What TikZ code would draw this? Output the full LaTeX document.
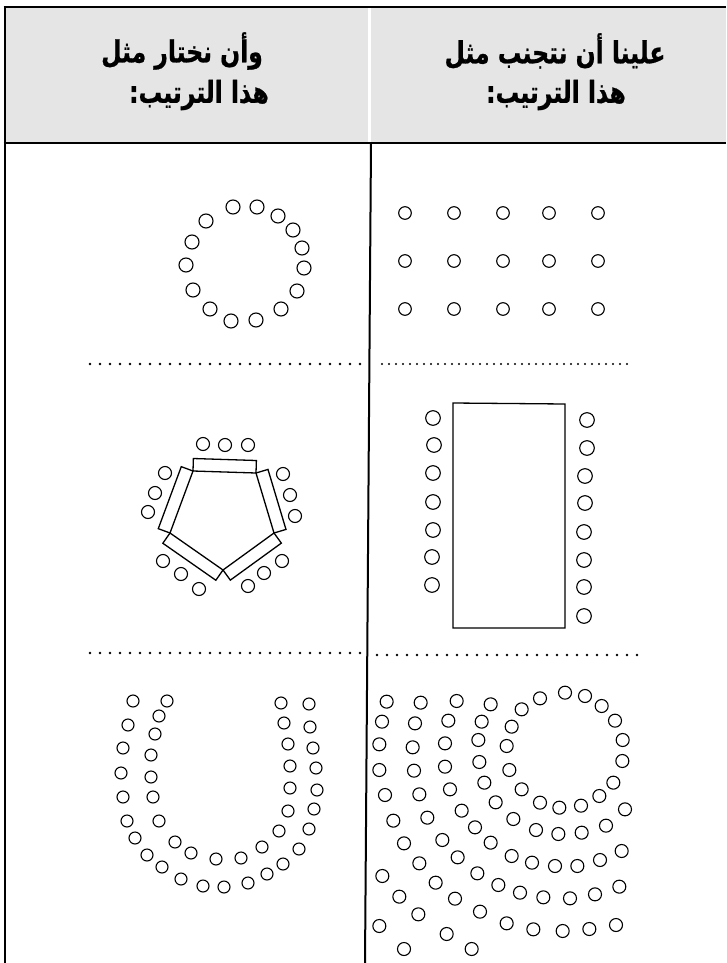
\documentclass[tikz,border=0pt]{standalone}
\usepackage{graphicx}
\usepackage{fontspec}
\TeXXeTstate=1
\newfontfamily\arabicfont[Script=Arabic, FakeBold=0.8]{DejaVu Sans Bold}
\usetikzlibrary{calc}
\definecolor{hdrgray}{HTML}{E5E5E5}
\newcommand{\hdrline}[1]{\scalebox{1.02}[1.32]{\beginR #1\endR}}
\tikzset{
  frame/.style={line width=2.8pt, black},
  divider/.style={line width=2pt, black},
  hdrtext/.style={font=\arabicfont\fontsize{23}{27}\selectfont, inner sep=0pt},
  seat/.style={line width=1.1pt, black},
  tbl/.style={line width=1.3pt, black, line join=miter},
  dotrow/.style={line width=2.6pt, dash pattern=on 0pt off 10pt, line cap=round},
  dotrowdense/.style={line width=2.4pt, dash pattern=on 0pt off 7pt, line cap=round}
}
\begin{document}
\begin{tikzpicture}[x=1pt,y=-1pt]
\useasboundingbox (0,0) rectangle (726,963);
% header
\fill[hdrgray] (5,7) rectangle (726,143);
\draw[white, line width=2.5pt] (369.5,8) -- (369.5,142);
\draw[frame] (3.6,7) -- (726,7);
\draw[frame] (5,7) -- (5,963);
\draw[frame] (3.6,143) -- (726,143);
\draw[divider] (371,143) -- (365,963);
% header texts
\node[hdrtext] (l1) at (182,51) {\hdrline{وأن نختار مثل}};
\node[hdrtext] (l2) at (199,95) {\hdrline{هذا الترتيب:}};
\node[hdrtext] (r1) at (555,51) {\hdrline{علينا أن نتجنب مثل}};
\node[hdrtext] (r2) at (556,95) {\hdrline{هذا الترتيب:}};
% dotted separators
\draw[dotrow] (90,364) -- (366,364);
\draw[dotrowdense] (382,364) -- (632,364);
\draw[dotrow] (90,653) -- (364,653);
\draw[dotrow] (377,655) -- (638,655);
% ring (top left)
\foreach \a/\b in {233/207,257/207,278/216,293/230,302/248,304/268,297/291,281/309,256/320,231/321,210/309,193/290,186/265,192/242,206/221}
  \draw[seat] (\a,\b) circle[radius=7];
% grid (top right)
\foreach \a in {405,454,503,549,598}
  \foreach \b in {213,261,309}
    \draw[seat] (\a,\b) circle[radius=6.3];
% pentagon tables
\coordinate (P1) at (193,471);
\coordinate (P2) at (256,473);
\coordinate (P3) at (274,533);
\coordinate (P4) at (223,570);
\coordinate (P5) at (170,533);
\foreach \A/\B in {P1/P2,P2/P3,P3/P4,P4/P5,P5/P1}
  \draw[tbl] (\A) -- (\B) -- ($(\B)!12.5pt!-90:(\A)$) -- ($(\A)!12.5pt!90:(\B)$) -- cycle;
\foreach \a/\b in {203/444,225/445,248/445,165/473,155/493,148/512,283/474,290/495,295/516,163/561,181/574,199/589,282/561,264/573,248/586}
  \draw[seat] (\a,\b) circle[radius=6.5];
% long table
\draw[tbl] (453,403) -- (565,404) -- (565,628) -- (453,628) -- cycle;
\foreach \a/\b in {433/418,434/445,433/473,433/502,433/530,432/557,432/585}
  \draw[seat] (\a,\b) circle[radius=7.3];
\foreach \a/\b in {587/420,587/448,585/476,585/503,584/532,584/560,584/587,584/616}
  \draw[seat] (\a,\b) circle[radius=7.3];
% U shape
\foreach \a/\b in {133/701,128/725,123/748,121/773,123/797,127/821,135/838,147/855,162/867,181/879,203/886,224/887,248/883,267/874,283/864,299/849,309/829,314/809,317/790,316/768,313/748,310/727,309/704}
  \draw[seat] (\a,\b) circle[radius=6];
\foreach \a/\b in {167/701,159/716,155/734,151/755,151/777,153/797,159/821,175/842,191/853,216/859,241/858,262/847,279/831,288/811,290/788,290/766,288/744,284/723,281/703}
  \draw[seat] (\a,\b) circle[radius=6];
% fan (bottom right)
\foreach \a/\b in {455/178,510/145,585/128,645/138,695/168,735/212,758/270,757/333,730/398,688/438,633/467,568/473,510/458,455/418,418/360,410/288,425/230,
  362/163,335/215,325/270,328/336,343/398,377/457,430/507,498/540,565/552,635/548,708/527,765/478,
  260/153,235/212,225/280,225/350,240/418,275/482,315/532,362/578,425/618,486/638,555/648,622/648,690/630,755/603,
  152/158,135/220,128/292,132/362,148/433,172/503,217/570,263/622,322/670,385/705,450/728,520/742,600/745,675/733,748/710,
  50/155,36/215,28/283,28/360,45/435,70/512,102/580,148/640,197/698,255/746,330/785,410/820,490/838,578/843,658/837,738/825,
  37/678,88/740,145/793,230/852,305/897,
  28/828,102/897}
  \draw[seat] ({370+\a/3},{650+\b/3}) circle[radius=6.5];
\end{tikzpicture}
\end{document}
